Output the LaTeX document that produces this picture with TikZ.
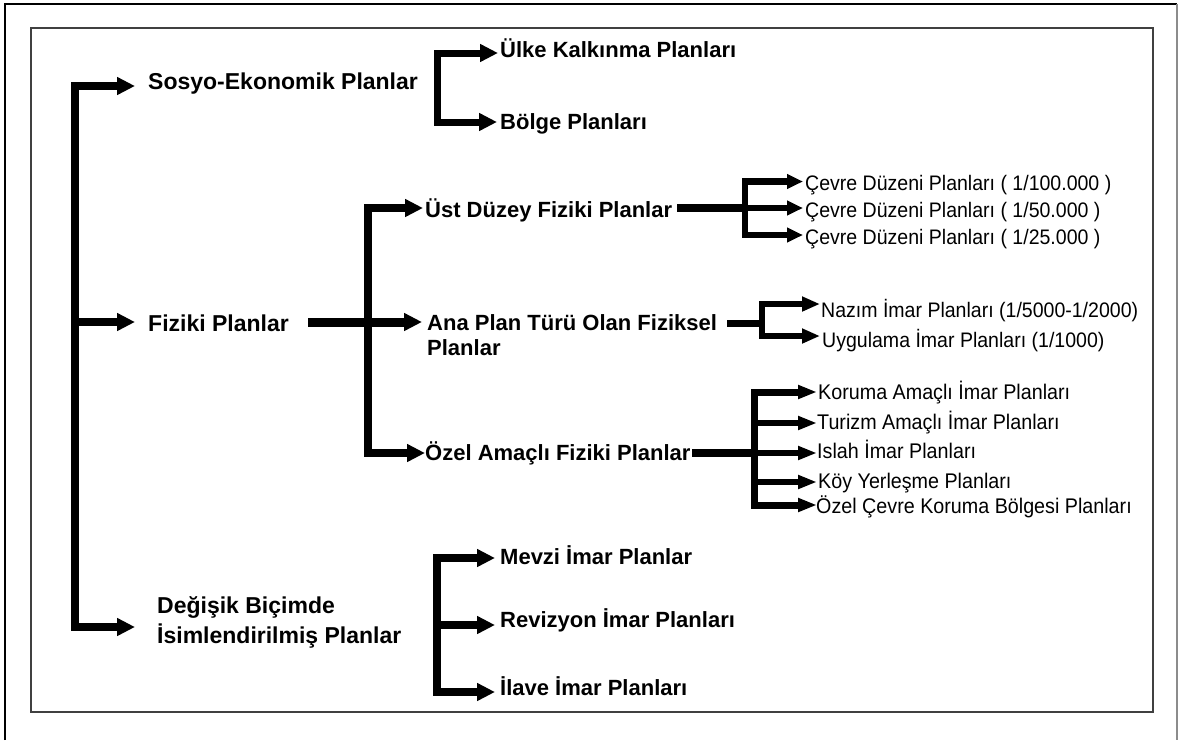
\documentclass[tikz,border=0pt]{standalone}
\usepackage{fontspec}
\setmainfont{Liberation Sans}
\newfontfamily\thirdfont[FakeStretch=0.93]{Liberation Sans}
\usetikzlibrary{arrows.meta}
\begin{document}
\begin{tikzpicture}[x=1pt,y=-1pt,
  lone/.style={font=\bfseries\fontsize{23}{30}\selectfont, anchor=base west, inner sep=0pt, align=left},
  ltwo/.style={font=\bfseries\fontsize{22}{25}\selectfont, anchor=base west, inner sep=0pt, align=left},
  lthree/.style={font=\thirdfont\fontsize{21}{22}\selectfont, anchor=base west, inner sep=0pt},
  lfour/.style={font=\thirdfont\fontsize{21.2}{22}\selectfont, anchor=base west, inner sep=0pt},
  bigarr/.style={line width=8pt, -{Triangle[length=18pt,width=17pt]}},
  midarr/.style={line width=7pt, -{Triangle[length=18pt,width=17pt]}},
  cearr/.style={line width=6.5pt, -{Triangle[length=16pt,width=14pt]}},
  nzarr/.style={line width=6pt, -{Triangle[length=18pt,width=14pt]}},
  krarr/.style={line width=5.5pt, -{Triangle[length=19pt,width=13pt]}},
  bar/.style={line width=8pt},
]
\useasboundingbox (0,0) rectangle (1179,740);
% frames
\draw[line width=2pt, black] (5,740) -- (5,4) -- (1177,4);
\draw[line width=1.5pt, black!45] (1177,4) -- (1177,740);
\draw[line width=1.8pt, black!75] (31,28) rectangle (1153,712);

% level 1 texts
\node[lone] (sosyo) at (148,89) {Sosyo-Ekonomik Planlar};
\node[lone] (fiz) at (148,331) {Fiziki Planlar};
\node[lone] (deg) at (157,643) {Değişik Biçimde\\İsimlendirilmiş Planlar};
% level 2 texts
\node[ltwo] (ulke) at (500,57) {Ülke Kalkınma Planları};
\node[ltwo] (bolge) at (500,129) {Bölge Planları};
\node[ltwo] (ust) at (425,217) {Üst Düzey Fiziki Planlar};
\node[ltwo] (ana) at (427,355) {Ana Plan Türü Olan Fiziksel\\Planlar};
\node[ltwo] (ozel) at (425,460) {Özel Amaçlı Fiziki Planlar};
\node[ltwo] (mevzi) at (500,564) {Mevzi İmar Planlar};
\node[ltwo] (rev) at (500,627) {Revizyon İmar Planları};
\node[ltwo] (ilave) at (500,695) {İlave İmar Planları};
% level 3 texts
\node[lthree] (c1) at (805,190.5) {Çevre Düzeni Planları ( 1/100.000 )};
\node[lthree] (c2) at (805,217.5) {Çevre Düzeni Planları ( 1/50.000 )};
\node[lthree] (c3) at (805,244) {Çevre Düzeni Planları ( 1/25.000 )};
\node[lthree] (naz) at (821,317) {Nazım İmar Planları (1/5000-1/2000)};
\node[lthree] (uyg) at (822,347) {Uygulama İmar Planları (1/1000)};
\node[lfour] (kor) at (818,399) {Koruma Amaçlı İmar Planları};
\node[lfour] (tur) at (817,429) {Turizm Amaçlı İmar Planları};
\node[lfour] (isl) at (817,458) {Islah İmar Planları};
\node[lfour] (koy) at (818,488) {Köy Yerleşme Planları};
\node[lfour] (ozc) at (816,513) {Özel Çevre Koruma Bölgesi Planları};

% coordinates
\coordinate (m1) at (75,86);  \coordinate (m2) at (75,322); \coordinate (m3) at (75,627);
\coordinate (aSos) at (135,86); \coordinate (aFiz) at (135,322); \coordinate (aDeg) at (135,627);
\coordinate (b1t) at (437,53); \coordinate (b1b) at (437,122);
\coordinate (aUlke) at (498,53); \coordinate (aBolge) at (497,122);
\coordinate (fizR) at (308,322);
\coordinate (t2t) at (368,208); \coordinate (t2b) at (368,453);
\coordinate (aUst) at (423,208); \coordinate (aAna) at (422,322); \coordinate (aOzel) at (425,453);
\coordinate (ustR) at (677,208);
\coordinate (t3t) at (745,181.5); \coordinate (t3m) at (745,208); \coordinate (t3b) at (745,235);
\coordinate (ac1) at (803,181.5); \coordinate (ac2) at (803,208); \coordinate (ac3) at (803,235);
\coordinate (anaR) at (727,323);
\coordinate (t4t) at (762,304); \coordinate (t4m) at (762,323); \coordinate (t4b) at (762,336);
\coordinate (anaz) at (820,304); \coordinate (auyg) at (820,336);
\coordinate (ozR) at (692,453);
\coordinate (t5t) at (754,392); \coordinate (t5m) at (754,453); \coordinate (t5b) at (754,505);
\coordinate (akor) at (817,392); \coordinate (atur) at (817,423); \coordinate (aisl) at (817,453);
\coordinate (akoy) at (817,482); \coordinate (aozc) at (817,505);
\coordinate (b2t) at (437,558); \coordinate (b2b) at (437,692);
\coordinate (amev) at (495,558); \coordinate (arev) at (495,625); \coordinate (ailv) at (495,692);
\coordinate (b2m) at (437,625);

% main trunk
\draw[bigarr] (m3) -- (m1) -- (aSos);
\draw[bigarr] (m1) -- (m3) -- (aDeg);
\draw[bigarr] (m2) -- (aFiz);
% sosyo bracket
\draw[midarr] (b1b) -- (b1t) -- (aUlke);
\draw[midarr] (b1t) -- (b1b) -- (aBolge);
% fiziki
\draw[bigarr, line width=9pt] (fizR) -- (aAna);
\draw[midarr, line width=8pt] (t2b) -- (t2t) -- (aUst);
\draw[midarr, line width=8pt] (t2t) -- (t2b) -- (aOzel);
% ust duzey
\draw[bar] (ustR) -- (t3m);
\draw[cearr] (t3b) -- (t3t) -- (ac1);
\draw[cearr] (t3m) -- (ac2);
\draw[cearr] (t3t) -- (t3b) -- (ac3);
% ana plan
\draw[bar, line width=7pt] (anaR) -- (t4m);
\draw[nzarr] (t4b) -- (t4t) -- (anaz);
\draw[nzarr] (t4t) -- (t4b) -- (auyg);
% ozel amacli
\draw[bar] (ozR) -- (t5m);
\draw[krarr, line width=7pt] (t5b) -- (t5t) -- (akor);
\draw[krarr, line width=7pt] (t5t) -- (t5b) -- (aozc);
\draw[krarr] (t5m) -- (aisl);
\draw[krarr] (t5m |- atur) -- (atur);
\draw[krarr] (t5m |- akoy) -- (akoy);
% degisik bracket
\draw[midarr, line width=8pt] (b2b) -- (b2t) -- (amev);
\draw[midarr, line width=8pt] (b2t) -- (b2b) -- (ailv);
\draw[midarr, line width=8pt] (b2m) -- (arev);
\end{tikzpicture}
\end{document}
